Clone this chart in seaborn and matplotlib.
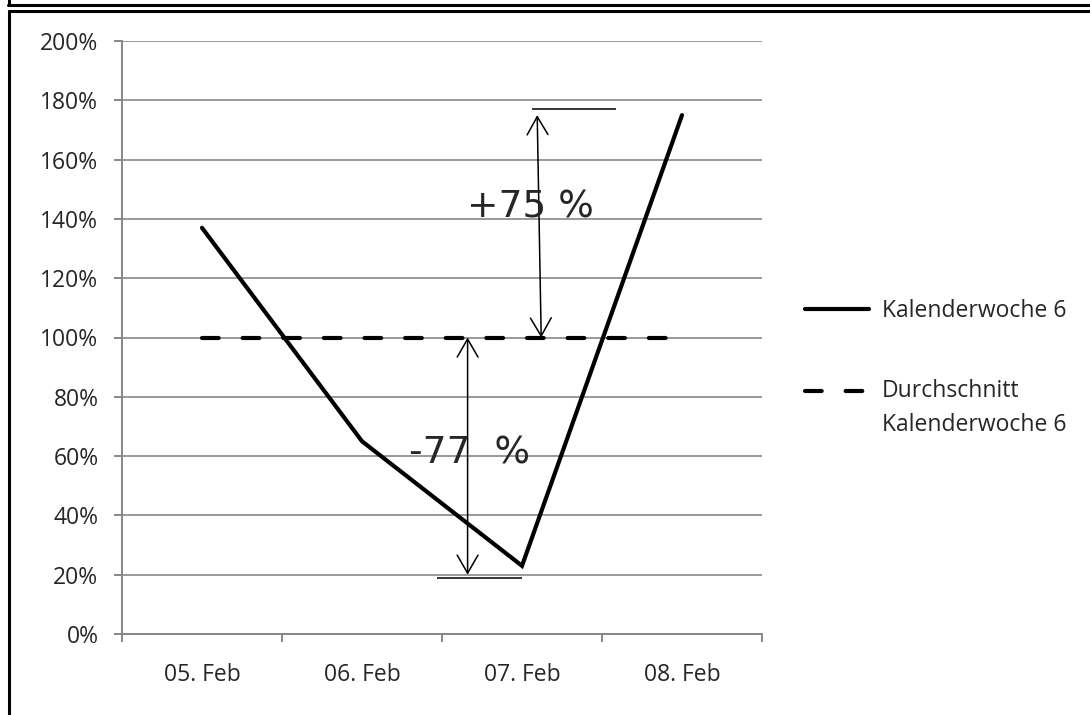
import matplotlib
matplotlib.use("Agg")
import matplotlib.pyplot as plt
from matplotlib.lines import Line2D
from matplotlib.ticker import PercentFormatter, MultipleLocator, FixedLocator
import seaborn as sns
import pandas as pd

# Daily values relative to the weekly average (percent)
days = ["05. Feb", "06. Feb", "07. Feb", "08. Feb"]
week_values = [137, 65, 23, 175]
average_values = [100, 100, 100, 100]

series_names = ["Kalenderwoche 6", "Durchschnitt\nKalenderwoche 6"]

# Deviation annotations: label, arrow x (category units), from/to values
deviation_labels = ["+75 %", "-77  %"]
upper_arrow = (2.12, 2.095, 100, 175)
lower_arrow = (1.66, 1.66, 100, 20)
upper_ref = (177, 2.06, 2.59)
lower_ref = (19, 1.47, 2.00)

sns.set_style("white")
plt.rcParams["font.family"] = ["Open Sans", "DejaVu Sans"]

FS = 16.5

fig = plt.figure(figsize=(10.9, 7.15), dpi=100)
ax = fig.add_axes([122 / 1090, 1 - 634 / 715, 640 / 1090, 593 / 715])

df = pd.DataFrame({"Tag": days, "Woche": week_values, "Mittel": average_values})
x = list(range(len(days)))

sns.lineplot(x=x, y=df["Woche"], ax=ax, color="black", lw=3,
             solid_joinstyle="miter", sort=False, label=series_names[0])
sns.lineplot(x=x, y=df["Mittel"], ax=ax, color="black", lw=3,
             dash_capstyle="round", sort=False, label=series_names[1])
ax.lines[1].set_dashes((4.0, 5.75))

ax.set_xlim(-0.5, len(days) - 0.5)
ax.set_ylim(0, 200)
ax.yaxis.set_major_locator(MultipleLocator(20))
ax.yaxis.set_major_formatter(PercentFormatter(decimals=0))

ax.xaxis.set_major_locator(FixedLocator([i - 0.5 for i in range(len(days) + 1)]))
ax.set_xticklabels([])
ax.set_xticks(x, minor=True)
ax.set_xticklabels(days, minor=True)

grey = "#878787"
ax.grid(axis="y", color=grey, lw=1.2)
ax.grid(axis="x", visible=False)
ax.set_axisbelow(True)
for side in ("top", "right"):
    ax.spines[side].set_visible(False)
for side in ("left", "bottom"):
    ax.spines[side].set_color(grey)
    ax.spines[side].set_linewidth(1.4)

ax.tick_params(axis="y", which="major", direction="out", length=6, width=1.4,
               color=grey, labelsize=FS, pad=11, left=True)
ax.tick_params(axis="x", which="major", direction="out", length=6, width=1.4,
               color=grey, bottom=True)
ax.tick_params(axis="x", which="minor", length=0, labelsize=FS, pad=21)
ax.set_xlabel("")
ax.set_ylabel("")

# Deviation arrows with reference lines
for (xa, xb, y0, y1) in (upper_arrow, lower_arrow):
    ax.annotate("", xy=(xb, y1), xytext=(xa if y1 > y0 else xb, y0),
                arrowprops=dict(arrowstyle="<->,head_length=13,head_width=7.5",
                                mutation_scale=1, color="black", lw=1.1,
                                shrinkA=0, shrinkB=0))
for (yv, x0, x1) in (upper_ref, lower_ref):
    ax.hlines(yv, x0, x1, color="black", lw=1.1)

ax.text(2.05, 144, deviation_labels[0], fontsize=27, family="DejaVu Sans",
        ha="center", va="center")
ax.text(1.675, 61, deviation_labels[1], fontsize=27, family="DejaVu Sans",
        ha="center", va="center")

leg = ax.legend(loc="upper left", bbox_to_anchor=(805 / 1090, 1 - 299 / 715),
                bbox_transform=fig.transFigure, frameon=False, fontsize=FS,
                handlelength=2.8, handletextpad=0.55, labelspacing=2.45,
                borderpad=0, borderaxespad=0)
for t in leg.get_texts():
    t.set_linespacing(1.55)
# Put the dashed sample beside the first line of its two-line label
line_step = 1.55 * FS
dash_handle = leg.get_lines()[1]
dash_handle.set_ydata([y + line_step / 2 for y in dash_handle.get_ydata()])

# Frame lines around the chart
frame = dict(color="black", lw=2.2, transform=fig.transFigure, clip_on=False)
W, H = 1090, 715
fig.add_artist(Line2D([8 / W, 1], [1 - 5 / H, 1 - 5 / H], **frame))
fig.add_artist(Line2D([9 / W, 9 / W], [1, 1 - 5 / H], **frame))
fig.add_artist(Line2D([9 / W, 1], [1 - 11 / H, 1 - 11 / H], **frame))
fig.add_artist(Line2D([9 / W, 9 / W], [1 - 11 / H, 0], **frame))

fig.savefig("out.png", dpi=100)
